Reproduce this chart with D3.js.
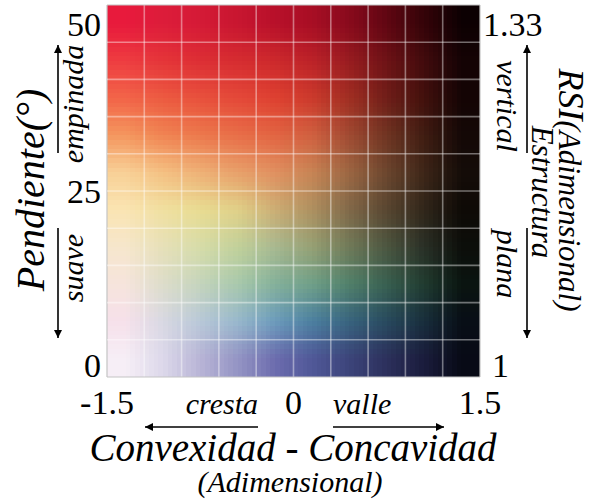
<!DOCTYPE html>
<html>
<head>
<meta charset="utf-8">
<script src="https://cdn.jsdelivr.net/npm/d3@7"></script>
<style>
  body { margin: 0; background: #fff; }
  text { font-family: 'Liberation Serif', 'DejaVu Serif', serif; fill: #000; }
</style>
</head>
<body>
<svg></svg>
<script>
// bins and ticks

const curvBins = [-1.5, -1.2, -0.9, -0.6, -0.3, 0, 0.3, 0.6, 0.9, 1.2, 1.5];
const slopeBins = [0, 5, 10, 15, 20, 25, 30, 35, 40, 45, 50];
const curvTicks = [-1.5, 0, 1.5];
const slopeTicks = [0, 25, 50];
const rsiTicks = [1, 1.33];

// cell colours, one row per slope band (curvature -1.5 -> 1.5)

const slope45to50 = ['#e81a3c', '#dc1c3a', '#d41a36', '#c81630', '#b8102a', '#a80e24', '#880a1c', '#600612', '#340308', '#0c0002'];
const slope40to45 = ['#ee3c40', '#e43438', '#dc2e34', '#d62c30', '#cc282c', '#bc2228', '#981c20', '#6e1216', '#420a0c', '#140304'];
const slope35to40 = ['#f26448', '#ec5a40', '#e8503c', '#e44838', '#de4030', '#cc3a2c', '#a02e22', '#701e18', '#42100c', '#140404'];
const slope30to35 = ['#f4965e', '#f08452', '#ec784c', '#e86e48', '#e26442', '#d06040', '#a04a32', '#703422', '#401c12', '#140806'];
const slope25to30 = ['#f8d096', '#f4c082', '#eeb076', '#e8a06a', '#e09060', '#c88454', '#9c6642', '#6c462e', '#3e2618', '#140c08'];
const slope20to25 = ['#fae4b2', '#f0e0a0', '#e8dc92', '#e0d088', '#ccae74', '#ae9060', '#806848', '#584630', '#30261a', '#0e0a06'];
const slope15to20 = ['#f6e6cc', '#e6e0b8', '#d6dca8', '#c2d09a', '#a8b890', '#96a074', '#707a58', '#4c5640', '#2a3026', '#0c0e0a'];
const slope10to15 = ['#f6e4dc', '#dcdcca', '#c4d4bc', '#a8c8ac', '#84b09a', '#70a088', '#50806a', '#386050', '#203c30', '#0a1410'];
const slope5to10  = ['#f6e0ea', '#d8d8e2', '#b8c8d8', '#98b8cc', '#6c9cbc', '#4c80a0', '#38647e', '#284a5e', '#182e3c', '#080e16'];
const slope0to5   = ['#f6eef6', '#dcd8ea', '#b8b4d6', '#9494c4', '#6c6cae', '#505898', '#3c447a', '#2c305c', '#1a1c3c', '#080a16'];

// rows from low slope to high slope
const colorRows = [slope0to5, slope5to10, slope10to15, slope15to20, slope20to25,
                   slope25to30, slope30to35, slope35to40, slope40to45, slope45to50];

const width = 593, height = 503;
const plot = { left: 107, right: 480, top: 5, bottom: 377 };

const svg = d3.select('svg')
  .attr('width', width)
  .attr('height', height);

const x = d3.scaleLinear().domain([-1.5, 1.5]).range([plot.left, plot.right]);
const y = d3.scaleLinear().domain([0, 50]).range([plot.bottom, plot.top]);
const yRsi = d3.scaleLinear().domain([1, 1.33]).range([plot.bottom, plot.top]);

// bin index scales (continuous, cell centres at i + 0.5)
const xi = d3.scaleLinear().domain(curvBins).range(d3.range(curvBins.length));
const yi = d3.scaleLinear().domain(slopeBins).range(d3.range(slopeBins.length));

const nC = curvBins.length - 1, nS = slopeBins.length - 1;

function colorAt(c, s) {
  const u = Math.max(0, Math.min(nC - 1, xi(c) - 0.5));
  const v = Math.max(0, Math.min(nS - 1, yi(s) - 0.5));
  const i0 = Math.floor(u), i1 = Math.min(i0 + 1, nC - 1);
  const j0 = Math.floor(v), j1 = Math.min(j0 + 1, nS - 1);
  const a = d3.interpolateRgb(colorRows[j0][i0], colorRows[j0][i1])(u - i0);
  const b = d3.interpolateRgb(colorRows[j1][i0], colorRows[j1][i1])(u - i0);
  return d3.interpolateRgb(a, b)(v - j0);
}


// colour field, each bin split into sub cells for a smooth blend

const sub = 8;
const field = [];
for (let j = 0; j < nS; j++) {
  for (let i = 0; i < nC; i++) {
    const dc = (curvBins[i + 1] - curvBins[i]) / sub;
    const ds = (slopeBins[j + 1] - slopeBins[j]) / sub;
    for (let b = 0; b < sub; b++) {
      for (let a = 0; a < sub; a++) {
        const c0 = curvBins[i] + a * dc, s0 = slopeBins[j] + b * ds;
        field.push({ c0, c1: c0 + dc, s0, s1: s0 + ds, color: colorAt(c0 + dc / 2, s0 + ds / 2) });
      }
    }
  }
}

svg.append('g')
  .attr('shape-rendering', 'crispEdges')
  .selectAll('rect')
  .data(field)
  .enter()
    .append('rect')
    .attr('x', d => Math.round(x(d.c0)))
    .attr('y', d => Math.round(y(d.s1)))
    .attr('width', d => Math.round(x(d.c1)) - Math.round(x(d.c0)))
    .attr('height', d => Math.round(y(d.s0)) - Math.round(y(d.s1)))
    .style('fill', d => d.color);


// grid

const gridG = svg.append('g');

gridG.selectAll('line.v')
  .data(curvBins)
  .enter()
    .append('line')
    .attr('x1', d => x(d)).attr('x2', d => x(d))
    .attr('y1', y(50)).attr('y2', y(0))
    .style('stroke', (d, i) => (i === 0 || i === nC) ? '#c4c4c4' : 'rgba(255,255,255,0.42)')
    .style('stroke-width', (d, i) => (i === 0 || i === nC) ? 1.2 : 1.6);

gridG.selectAll('line.h')
  .data(slopeBins)
  .enter()
    .append('line')
    .attr('y1', d => y(d)).attr('y2', d => y(d))
    .attr('x1', x(-1.5)).attr('x2', x(1.5))
    .style('stroke', (d, i) => (i === 0 || i === nS) ? '#c4c4c4' : 'rgba(255,255,255,0.42)')
    .style('stroke-width', (d, i) => (i === 0 || i === nS) ? 1.2 : 1.6);


// tick labels

const clampBase = v => Math.max(plot.top + 31, Math.min(plot.bottom, v));

svg.append('g').selectAll('text')
  .data(slopeTicks)
  .enter()
    .append('text')
    .attr('x', plot.left - 6)
    .attr('y', d => clampBase(y(d) + 12))
    .attr('text-anchor', 'end')
    .style('font-size', '34px')
    .text(d => d);

svg.append('g').selectAll('text')
  .data(rsiTicks)
  .enter()
    .append('text')
    .attr('x', d => d === rsiTicks[0] ? plot.right + 12 : plot.right + 3)
    .attr('y', d => clampBase(yRsi(d) + 12))
    .style('font-size', '34px')
    .text(d => d);

svg.append('g').selectAll('text')
  .data(curvTicks)
  .enter()
    .append('text')
    .attr('x', d => x(d))
    .attr('y', 414)
    .attr('text-anchor', 'middle')
    .style('font-size', '34px')
    .text(d => d);


// arrows

const defs = svg.append('defs');
defs.append('marker')
  .attr('id', 'head')
  .attr('viewBox', '0 0 10 10')
  .attr('refX', 10).attr('refY', 5)
  .attr('markerUnits', 'userSpaceOnUse')
  .attr('markerWidth', 10).attr('markerHeight', 8)
  .attr('orient', 'auto')
  .append('path')
  .attr('d', 'M0,0 L10,5 L0,10 z')
  .style('fill', '#000');

const arrows = [
  [58, 153, 58, 45], [58, 228, 58, 338],
  [527, 153, 527, 45], [527, 228, 527, 338],
  [258, 427, 145, 427], [333, 427, 444, 427]
];

svg.append('g').selectAll('line')
  .data(arrows)
  .enter()
    .append('line')
    .attr('x1', d => d[0]).attr('y1', d => d[1])
    .attr('x2', d => d[2]).attr('y2', d => d[3])
    .style('stroke', '#000')
    .style('stroke-width', 1.6)
    .attr('marker-end', 'url(#head)');


// labels

function label(txt, tx, ty, rot, size, anchor) {
  return svg.append('text')
    .attr('transform', `translate(${tx},${ty}) rotate(${rot})`)
    .attr('text-anchor', anchor || 'middle')
    .style('font-style', 'italic')
    .style('font-size', size + 'px')
    .text(txt);
}

label('Pendiente(°)', 44, 190, -90, 40);
label('empinada', 83, 104, -90, 30);
label('suave', 83, 268, -90, 30);

label('vertical', 497, 106, 90, 30);
label('Estructura', 532, 192, 90, 31);
label('plana', 497, 264, 90, 30);

const rsi = svg.append('text')
  .attr('transform', 'translate(559,190) rotate(90)')
  .attr('text-anchor', 'middle')
  .style('font-style', 'italic');
rsi.append('tspan').style('font-size', '36px').text('RSI');
rsi.append('tspan').style('font-size', '31px').text('(Adimensional)');

label('cresta', 258, 414, 0, 30, 'end');
label('valle', 333, 414, 0, 30, 'start');
label('Convexidad - Concavidad', 293, 461, 0, 39);
label('(Adimensional)', 290, 492, 0, 30);
</script>
</body>
</html>
